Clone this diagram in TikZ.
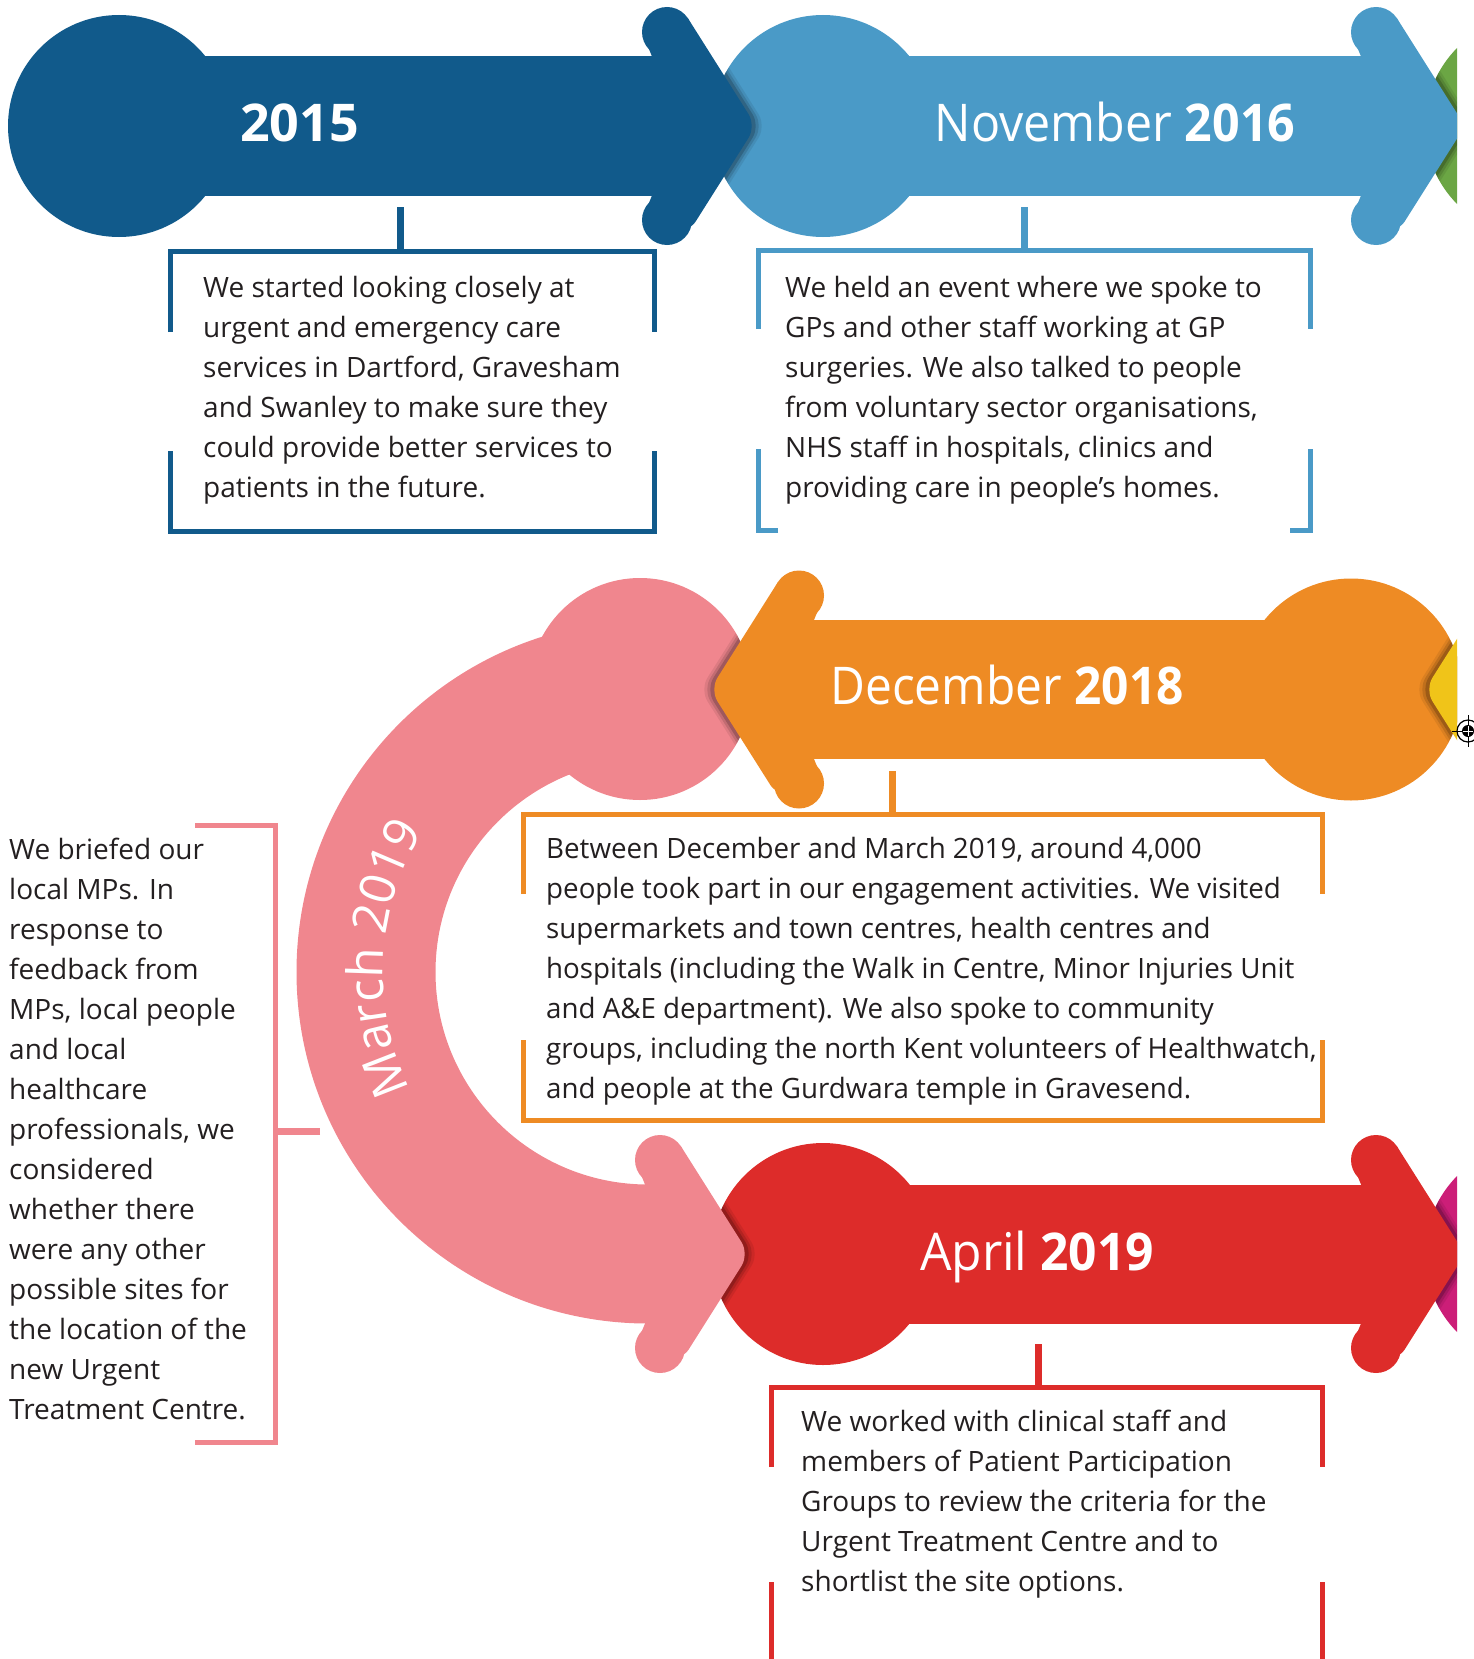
\documentclass[tikz,border=0pt]{standalone}
\usepackage{graphicx}
\usepackage{fontspec}
\usetikzlibrary{decorations.text}
\newfontfamily\fr{Open Sans}
\definecolor{cdblue}{HTML}{115A8B}
\definecolor{clblue}{HTML}{4A9AC7}
\definecolor{cgreen}{HTML}{6BA644}
\definecolor{corange}{HTML}{EE8B24}
\definecolor{cyellow}{HTML}{F0C419}
\definecolor{cpink}{HTML}{F0868E}
\definecolor{cred}{HTML}{DD2C2A}
\definecolor{cmag}{HTML}{CC1E78}
\definecolor{ctext}{HTML}{231F20}

\newcommand\headpoly[3]{({#1},{#2-69.5}) -- ({#1-10*(#3)},{#2-94}) -- ({#1+15*(#3)},{#2-94}) -- ({#1+36*(#3)},{#2-107.6}) [rounded corners=14pt] -- ({#1+104*(#3)},{#2}) -- ({#1+36*(#3)},{#2+107.6}) [sharp corners] -- ({#1+15*(#3)},{#2+94}) -- ({#1-10*(#3)},{#2+94}) -- ({#1},{#2+69.5}) -- cycle}
\newcommand\headfill[4]{%
  \fill[#4] \headpoly{#1}{#2}{#3};
  \fill[#4] ({#1+15*(#3)},{#2-94}) circle (25);
  \fill[#4] ({#1+15*(#3)},{#2+94}) circle (25);}
\newcommand\headshadow[5]{%
  \begin{scope}
    \clip (#4,#5) circle (111);
    \foreach \s/\o in {10/0.08,7/0.12,4/0.18}{
      \fill[black,opacity=\o,xshift={\s*(#3)}] \headpoly{#1}{#2}{#3};}
  \end{scope}}
\newcommand\bodyfill[4]{%
  \fill[#4] (#1,#3) circle (111);
  \fill[#4] (#1,{#3-69.5}) rectangle (#2,{#3+69.5});}
\newcommand\lyn[1]{\hbox{#1}}

\tikzset{
  bodytext/.style={anchor=base west, inner sep=0, text=ctext, font=\fr\fontsize{28}{40}\selectfont},
  title/.style={anchor=base, inner sep=0, text=white, font=\fr\fontsize{52}{60}\selectfont},
  frame/.style={line width=5pt, line join=miter},
  stem/.style={line width=7pt}
}

\begin{document}
\begin{tikzpicture}[x=1pt,y=-1pt]
\useasboundingbox (0,0) rectangle (1473,1659);

\begin{scope}
\clip (0,0) rectangle (1457,1659);
% row 1
\fill[cgreen] (1536,126) circle (111);
\bodyfill{823}{1361}{126}{clblue}
\headshadow{1361}{126}{1}{1536}{126}
\headfill{1361}{126}{1}{clblue}
\bodyfill{119}{652}{126}{cdblue}
\headshadow{652}{126}{1}{823}{126}
\headfill{652}{126}{1}{cdblue}
% pink arc
\begin{scope}
  \clip (0,0) rectangle (648,1659);
  \fill[cpink, even odd rule] (648,972) circle (351.5) (648,972) circle (212.5);
\end{scope}
\fill[cpink] (640,689) circle (111);
% row 2
\bodyfill{1351}{814}{689.5}{corange}
\headshadow{814}{689.5}{-1}{640}{689}
\headfill{814}{689.5}{-1}{corange}
\headshadow{1529}{689.5}{-1}{1351}{689.5}
\headfill{1529}{689.5}{-1}{cyellow}
% row 3
\fill[cmag] (1536,1254) circle (111);
\bodyfill{823}{1361}{1254}{cred}
\headshadow{1361}{1254}{1}{1536}{1254}
\headfill{1361}{1254}{1}{cred}
\headshadow{645}{1254}{1}{823}{1254}
\headfill{645}{1254}{1}{cpink}
\end{scope}

% titles
\node[title] (t2015) at (299.5,142) {\bfseries 2015};
\node[title] (t2016) at (1115,142) {\scalebox{0.93}[1]{November \bfseries 2016}};
\node[title] (t2018) at (1007,704) {\scalebox{0.92}[1]{December \bfseries 2018}};
\node[title] (t2019) at (1037,1270) {\scalebox{0.957}[1]{April \bfseries 2019}};
\path[decorate, decoration={text along path, text align=center, text color=white,
  text={|\fr\fontsize{49}{60}\selectfont|March 2019}}]
  (648,972) ++(140:265) arc[start angle=140, end angle=226, radius=265];

% frames and stems
\coordinate (s1a) at (400,207); \coordinate (s1b) at (400,251.5);
\draw[stem,cdblue] (s1a) -- (s1b);
\draw[frame,cdblue] (170.5,332) |- (654.5,251.5) -- (654.5,332);
\draw[frame,cdblue] (170.5,451) |- (654.5,531) -- (654.5,451);

\coordinate (s2a) at (1024,207); \coordinate (s2b) at (1024,250);
\draw[stem,clblue] (s2a) -- (s2b);
\draw[frame,clblue] (758,329) |- (1310,250) -- (1310,329);
\draw[frame,clblue] (778,530.5) -| (758,449);
\draw[frame,clblue] (1290,530.5) -| (1310,449);

\coordinate (s3a) at (892,771); \coordinate (s3b) at (892,814);
\draw[stem,corange] (s3a) -- (s3b);
\draw[frame,corange] (523,894) |- (1322,814) -- (1322,894);
\draw[frame,corange] (523,1040) |- (1322,1120.5) -- (1322,1040);

\coordinate (s4a) at (320,1131); \coordinate (s4b) at (275.5,1131);
\draw[stem,cpink] (s4a) -- (s4b);
\draw[frame,cpink] (195,825) -| (275.5,1442.5) -- (195,1442.5);

\coordinate (s5a) at (1038,1344); \coordinate (s5b) at (1038,1387.5);
\draw[stem,cred] (s5a) -- (s5b);
\draw[frame,cred] (771,1467) |- (1322,1387.5) -- (1322,1467);
\draw[frame,cred] (771,1582) -- (771,1659);
\draw[frame,cred] (1322,1582) -- (1322,1659);

% texts
\node[bodytext] (b1) at (203,297) {\vtop{\lyn{We started looking closely at}\lyn{urgent and emergency care}\lyn{services in Dartford, Gravesham}\lyn{and Swanley to make sure they}\lyn{could provide better services to}\lyn{patients in the future.}}};
\node[bodytext] (b2) at (785,297) {\vtop{\lyn{We held an event where we spoke to}\lyn{GPs and other staff working at GP}\lyn{surgeries. We also talked to people}\lyn{from voluntary sector organisations,}\lyn{NHS staff in hospitals, clinics and}\lyn{providing care in people’s homes.}}};
\node[bodytext] (b3) at (546,858) {\scalebox{0.99}[1]{\vtop{\lyn{Between December and March 2019, around 4,000}\lyn{people took part in our engagement activities. We visited}\lyn{supermarkets and town centres, health centres and}\lyn{hospitals (including the Walk in Centre, Minor Injuries Unit}\lyn{and A\&E department). We also spoke to community}\lyn{groups, including the north Kent volunteers of Healthwatch,}\lyn{and people at the Gurdwara temple in Gravesend.}}}};
\node[bodytext] (b4) at (9,859) {\vtop{\lyn{We briefed our}\lyn{local MPs. In}\lyn{response to}\lyn{feedback from}\lyn{MPs, local people}\lyn{and local}\lyn{healthcare}\lyn{professionals, we}\lyn{considered}\lyn{whether there}\lyn{were any other}\lyn{possible sites for}\lyn{the location of the}\lyn{new Urgent}\lyn{Treatment Centre.}}};
\node[bodytext] (b5) at (801,1431) {\vtop{\lyn{We worked with clinical staff and}\lyn{members of Patient Participation}\lyn{Groups to review the criteria for the}\lyn{Urgent Treatment Centre and to}\lyn{shortlist the site options.}}};

% registration mark
\draw[line width=1.2pt] (1468,731) circle (11);
\fill (1468,731) circle (6);
\draw[line width=1pt] (1452,731) -- (1484,731) (1468,715) -- (1468,747);
\draw[white, line width=1pt] (1463,731) -- (1473,731) (1468,726) -- (1468,736);
\end{tikzpicture}
\end{document}
